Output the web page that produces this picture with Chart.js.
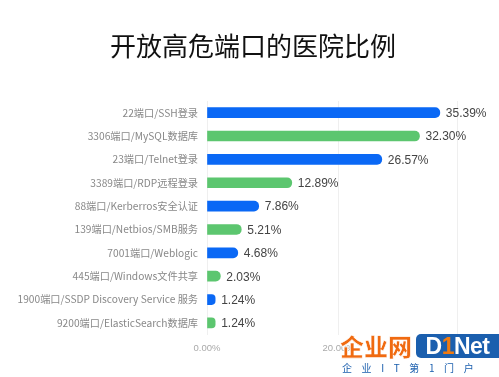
<!DOCTYPE html>
<html>
<head>
<meta charset="utf-8">
<script src="https://cdn.jsdelivr.net/npm/chart.js@4"></script>
<style>
  html, body { margin: 0; padding: 0; background: #fff; }
  #wrap { position: relative; width: 499px; height: 377px; }
  #mark { position: absolute; left: 340px; top: 333px; width: 159px; height: 44px; font-family: "Noto Sans CJK SC", sans-serif; pointer-events: none; }
  #mark .cn { position: absolute; left: 0; top: 0; font-size: 24px; line-height: 25px; font-weight: 900; color: #f06a10; letter-spacing: 0px; -webkit-text-stroke: 0.6px #fff; }
  #mark .en { position: absolute; left: 76px; top: 1px; width: 83px; height: 24px; background: #1b5fae; border-radius: 5px 0 0 5px; color: #fff; font: bold 23px/24px "Liberation Sans", sans-serif; text-align: center; letter-spacing: -0.5px; }
  #mark .en b { color: #f07a10; }
  #mark .sub { position: absolute; left: 2px; top: 28px; font-size: 10px; line-height: 13px; color: #1b5fae; letter-spacing: 9.6px; white-space: nowrap; }
</style>
</head>
<body>
<div id="wrap">
  <canvas id="chart" width="499" height="377"></canvas>
  <div id="mark">
    <div class="cn">企业网</div>
    <div class="en">D<b>1</b>Net</div>
    <div class="sub">企业IT第1门户</div>
  </div>
</div>
<script>
// ports, top to bottom
const ports = [
  '22端口/SSH登录',
  '3306端口/MySQL数据库',
  '23端口/Telnet登录',
  '3389端口/RDP远程登录',
  '88端口/Kerberros安全认证',
  '139端口/Netbios/SMB服务',
  '7001端口/Weblogic',
  '445端口/Windows文件共享',
  '1900端口/SSDP Discovery Service 服务',
  '9200端口/ElasticSearch数据库'
];
const ratios = [35.39, 32.30, 26.57, 12.89, 7.86, 5.21, 4.68, 2.03, 1.24, 1.24];
const xTicks = [0, 20];
const TITLE = '开放高危端口的医院比例';

const BLUE = '#0a68f5';
const GREEN = '#5cc66f';

// title drawn by hand so it is centred on the whole picture, not the plot
const pageTitle = {
  id: 'pageTitle',
  afterDraw(chart) {
    const c = chart.ctx;
    c.save();
    c.font = '26px "Noto Sans CJK SC", sans-serif';
    c.fillStyle = '#111';
    c.textAlign = 'center';
    c.textBaseline = 'middle';
    c.fillText(TITLE, 253, 46);
    c.restore();
  }
};

// print the percentage just past the end of each bar
const valueLabels = {
  id: 'valueLabels',
  afterDatasetsDraw(chart) {
    const c = chart.ctx;
    const meta = chart.getDatasetMeta(0);
    c.save();
    c.font = '12px "Liberation Sans", Arial, sans-serif';
    c.fillStyle = '#444';
    c.textAlign = 'left';
    c.textBaseline = 'middle';
    meta.data.forEach((bar, i) => {
      c.fillText(ratios[i].toFixed(2) + '%', bar.x + 6, bar.y + 1);
    });
    c.restore();
  }
};

new Chart(document.getElementById('chart'), {
  type: 'bar',
  data: {
    labels: ports,
    datasets: [{
      data: ratios,
      backgroundColor: ratios.map((v, i) => i % 2 ? GREEN : BLUE),
      barThickness: 10,
      borderRadius: 5,
      borderSkipped: 'start'
    }]
  },
  options: {
    indexAxis: 'y',
    responsive: false,
    animation: false,
    layout: { padding: { left: 0, right: 42, top: 101, bottom: 15 } },
    scales: {
      x: {
        min: 0, max: 38,
        border: { display: false },
        grid: { color: '#efefef', drawTicks: false },
        afterBuildTicks(scale) {
          scale.ticks = xTicks.map(v => ({ value: v })).concat([{ value: 38 }]);
        },
        ticks: {
          padding: 8,
          autoSkip: false,
          maxRotation: 0,
          color: '#aaa',
          font: { size: 9.5, family: '"Liberation Sans", Arial, sans-serif' },
          callback: v => xTicks.includes(v) ? v.toFixed(2) + '%' : ''
        }
      },
      y: {
        border: { display: false },
        grid: { display: false, drawTicks: false },
        afterFit(scale) { scale.width = 207; },
        ticks: {
          padding: 9,
          autoSkip: false,
          color: '#888',
          font: { size: 10.2, family: '"Noto Sans CJK SC", sans-serif' }
        }
      }
    },
    plugins: {
      legend: { display: false },
      tooltip: { enabled: false },
      title: { display: false }
    }
  },
  plugins: [valueLabels, pageTitle]
});
</script>
</body>
</html>
